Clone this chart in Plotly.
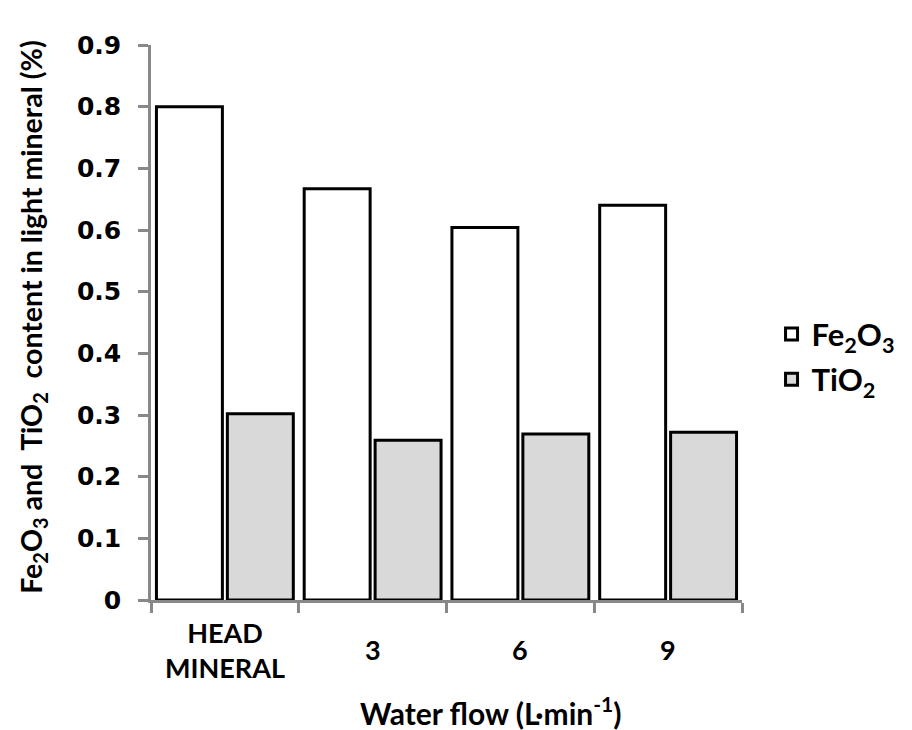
import plotly.graph_objects as go

categories = ["HEAD<br>MINERAL", "3", "6", "9"]
fe2o3 = [0.800, 0.667, 0.604, 0.640]
tio2 = [0.302, 0.259, 0.269, 0.272]
y_ticks = [0, 0.1, 0.2, 0.3, 0.4, 0.5, 0.6, 0.7, 0.8, 0.9]
y_tick_text = ["0", "0.1", "0.2", "0.3", "0.4", "0.5", "0.6", "0.7", "0.8", "0.9"]
x_title = "Water flow (L·min<sup>-1</sup>)"
y_title = "Fe<sub>2</sub>O<sub>3</sub> and  TiO<sub>2</sub>  content in light mineral (%)"

TITLE_FONT = "Lato, 'Open Sans', sans-serif"
TICK_FONT = "'DejaVu Sans', Verdana, sans-serif"

fig = go.Figure()
fig.add_trace(go.Bar(
    x=categories, y=fe2o3, name="Fe<sub>2</sub>O<sub>3</sub>",
    marker=dict(color="#ffffff", line=dict(color="#000000", width=3)),
    legendgroup="a",
))
fig.add_trace(go.Bar(
    x=categories, y=tio2, name="TiO<sub>2</sub>",
    marker=dict(color="#d9d9d9", line=dict(color="#000000", width=3)),
    legendgroup="b",
))

# category labels, vertically centred under each category (positioned by category index)
for i, c in enumerate(categories):
    fig.add_annotation(
        x=i, xref="x", y=-0.09, yref="paper", yanchor="middle", xanchor="center",
        text=c, showarrow=False,
        font=dict(family=TITLE_FONT, size=27, color="#000000", weight="bold"),
    )

# x-axis title (offset to the right as in the reference)
fig.add_annotation(
    x=0.575, xref="paper", y=-0.2, yref="paper", yanchor="middle", xanchor="center",
    text=x_title, showarrow=False,
    font=dict(family=TITLE_FONT, size=30, color="#000000", weight="bold"),
)

# y-axis title
fig.add_annotation(
    x=-0.2, xref="paper", y=0.51, yref="paper", yanchor="middle", xanchor="center",
    text=y_title, textangle=-90, showarrow=False,
    font=dict(family=TITLE_FONT, size=28.5, color="#000000", weight="bold"),
)

fig.update_layout(
    width=904, height=722,
    margin=dict(l=143, r=150, t=37, b=130),
    paper_bgcolor="white", plot_bgcolor="white",
    barmode="group", bargap=0.04, bargroupgap=0.07,
    showlegend=True,
    legend=dict(
        x=1.05, y=0.438, xanchor="left", yanchor="middle",
        font=dict(family=TITLE_FONT, size=31, color="#000000", weight="bold"),
        tracegroupgap=2, itemwidth=30,
        bgcolor="rgba(0,0,0,0)",
    ),
    xaxis=dict(
        type="category", range=[-0.5, len(categories) - 0.5],
        automargin=False, showticklabels=False,
        showline=True, linecolor="#888888", linewidth=2.5,
        ticks="outside", tickson="boundaries", ticklen=10, tickwidth=2.5, tickcolor="#888888",
        showgrid=False, zeroline=False,
    ),
    yaxis=dict(
        automargin=False,
        range=[0, 0.9], tickvals=y_ticks, ticktext=y_tick_text,
        showline=True, linecolor="#888888", linewidth=2.5,
        ticks="outside", ticklen=10, tickwidth=2.5, tickcolor="#888888",
        tickfont=dict(family=TICK_FONT, size=25, color="#000000", weight="bold"),
        ticklabelstandoff=12,
        showgrid=False, zeroline=False,
    ),
)

fig.write_html("out.html")
